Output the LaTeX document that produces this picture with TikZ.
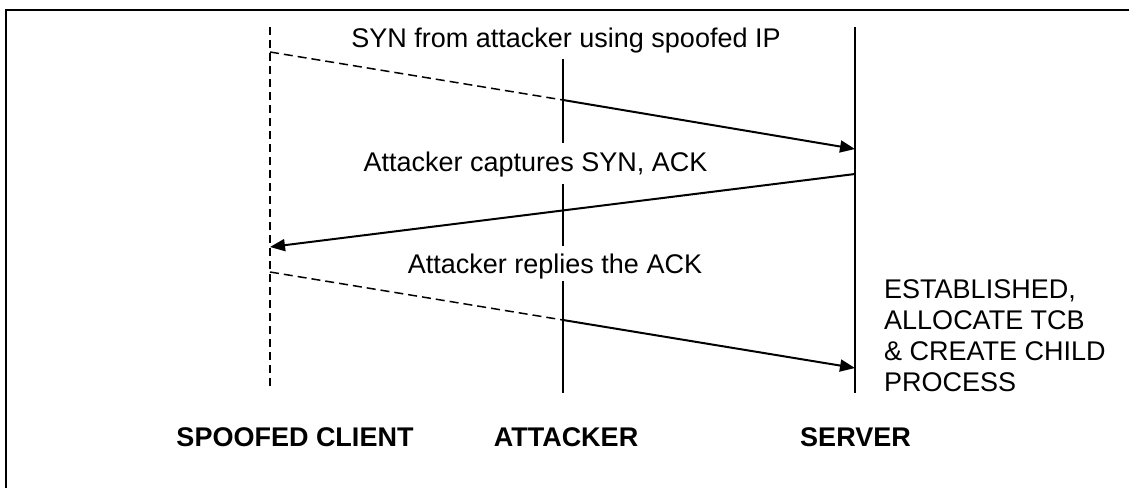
\documentclass[tikz,border=0pt]{standalone}
\usepackage{fontspec}
\setmainfont{Liberation Sans}
\usetikzlibrary{arrows.meta}
\begin{document}
\begin{tikzpicture}[x=1pt,y=-1pt,
  lifeline/.style={line width=1.8pt},
  dashlife/.style={line width=1.5pt,dash pattern=on 8pt off 5pt},
  msg/.style={line width=2pt,-{Triangle[length=15pt,width=12pt]}},
  msgdash/.style={line width=1.5pt,dash pattern=on 9pt off 5pt},
  lbl/.style={inner sep=0pt,anchor=base,font=\fontsize{27}{31}\selectfont},
  hdr/.style={inner sep=0pt,anchor=base,font=\fontsize{27}{31}\selectfont\bfseries},
  note/.style={inner sep=0pt,anchor=base west,font=\fontsize{27}{31}\selectfont}]
\useasboundingbox (0,0) rectangle (1129,487);
\fill[white] (0,0) rectangle (1129,487);
% frame
\draw[line width=2.2pt] (6,500) -- (6,10) -- (1140,10);
% lifeline coordinates
\coordinate (ctop) at (270,27);
\coordinate (cbot) at (270,390);
\coordinate (stop) at (855,27);
\coordinate (sbot) at (855,393);
\coordinate (at1) at (563,59);
\coordinate (ab1) at (563,143);
\coordinate (at2) at (563,184);
\coordinate (ab2) at (563,246);
\coordinate (at3) at (563,281);
\coordinate (ab3) at (563,393);
% message points
\coordinate (c1) at (270,52);
\coordinate (a1) at (563,100);
\coordinate (s1) at (855,149);
\coordinate (s2) at (855,174);
\coordinate (c2) at (270,247);
\coordinate (c3) at (270,272);
\coordinate (a3) at (563,320);
\coordinate (s3) at (855,368);
% lifelines
\draw[dashlife] (ctop) -- (cbot);
\draw[lifeline] (stop) -- (sbot);
\draw[lifeline] (at1) -- (ab1);
\draw[lifeline] (at2) -- (ab2);
\draw[lifeline] (at3) -- (ab3);
% messages
\draw[msgdash] (c1) -- (a1);
\draw[msg] (a1) -- (s1);
\draw[msg] (s2) -- (c2);
\draw[msgdash] (c3) -- (a3);
\draw[msg] (a3) -- (s3);
% labels
\node[lbl] (t1) at (566,48) {SYN from attacker using spoofed IP};
\node[lbl] (t2) at (535.5,171) {Attacker captures SYN, ACK};
\node[lbl] (t3) at (555,273) {Attacker replies the ACK};
\node[note] (e1) at (884,298) {ESTABLISHED,};
\node[note] (e2) at (884,329) {ALLOCATE TCB};
\node[note] (e3) at (884,360) {\& CREATE CHILD};
\node[note] (e4) at (884,391) {PROCESS};
\node[hdr] (hc) at (295,446) {SPOOFED CLIENT};
\node[hdr] (ha) at (566,446) {ATTACKER};
\node[hdr] (hs) at (855.5,446) {SERVER};
\end{tikzpicture}
\end{document}
